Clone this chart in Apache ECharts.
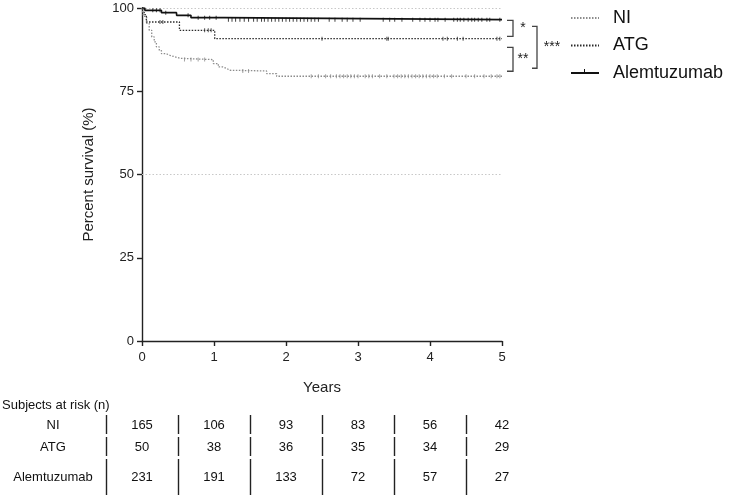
<!DOCTYPE html>
<html>
<head>
<meta charset="utf-8">
<script src="https://cdn.jsdelivr.net/npm/echarts@6/dist/echarts.min.js"></script>
<style>
html,body{margin:0;padding:0;background:#fff;}
#chart{width:729px;height:496px;}
</style>
</head>
<body>
<div id="chart"></div>
<script>
// ---- data ----
const seriesNames = ['NI', 'ATG', 'Alemtuzumab'];
const xTicks = [0, 1, 2, 3, 4, 5];
const yTicks = [0, 25, 50, 75, 100];

const niT = [0, 0.02, 0.065, 0.1, 0.135, 0.17, 0.2, 0.24, 0.27, 0.33, 0.39, 0.46, 0.53, 0.99, 1.06, 1.12, 1.18, 1.22, 1.73, 1.87, 5];
const niS = [100, 97.5, 95.4, 93.3, 91.3, 89.8, 88.3, 87.2, 86.3, 85.8, 85.3, 84.9, 84.5, 83.3, 82.3, 81.8, 81.3, 81.1, 80.3, 79.5, 79.5];

const atgT = [0, 0.03, 0.06, 0.52, 1.01, 5];
const atgS = [100, 98, 95.8, 93.3, 90.8, 90.8];

const alemT = [0, 0.04, 0.27, 0.48, 0.68, 1.14, 5];
const alemS = [100, 99.3, 98.6, 97.8, 97.1, 96.5, 96.5];

const niCensor = [0.59, 0.68, 0.78, 0.87, 1.4, 1.48, 2.35, 2.45, 2.55, 2.62, 2.7, 2.75, 2.8, 2.85, 2.9, 2.95, 3.0, 3.1, 3.15, 3.2, 3.3, 3.4, 3.5, 3.55, 3.6, 3.65, 3.7, 3.75, 3.8, 3.85, 3.9, 3.95, 4.0, 4.05, 4.1, 4.2, 4.3, 4.5, 4.62, 4.75, 4.85, 4.93, 4.97];
const atgCensor = [0.25, 0.29, 0.87, 0.92, 0.96, 2.5, 3.4, 3.42, 4.18, 4.24, 4.38, 4.46, 4.93, 4.97];
const alemCensor = [0.15, 0.2, 0.25, 0.33, 0.64, 0.78, 0.87, 0.94, 1.03, 1.2, 1.25, 1.3, 1.36, 1.42, 1.48, 1.55, 1.6, 1.66, 1.7, 1.75, 1.8, 1.85, 1.9, 1.95, 2.0, 2.05, 2.1, 2.15, 2.2, 2.25, 2.3, 2.35, 2.4, 2.45, 2.6, 2.68, 2.78, 2.85, 2.93, 3.03, 3.35, 3.44, 3.51, 3.61, 3.76, 3.86, 3.93, 4.0, 4.07, 4.11, 4.21, 4.33, 4.38, 4.42, 4.47, 4.53, 4.58, 4.62, 4.67, 4.72, 4.79, 4.83, 4.97];

const gridValues = [50, 100];

// significance brackets: [upper value, lower value, label]
const bracketInner = [[96.3, 91.5, '*'], [88.2, 81.0, '**']];
const bracketOuter = [[94.5, 81.9, '***']];

// at-risk table
const riskTitle = 'Subjects at risk (n)';
const riskNI = [165, 106, 93, 83, 56, 42];
const riskATG = [50, 38, 36, 35, 34, 29];
const riskAlem = [231, 191, 133, 72, 57, 27];

// ---- helpers ----
function pairs(t, s) { return t.map((x, i) => [x, s[i]]); }
function survAt(t, s, x) {
  let v = s[0];
  for (let i = 0; i < t.length; i++) { if (t[i] <= x) v = s[i]; }
  return v;
}
function censorPts(c, t, s) { return c.map(x => [x, survAt(t, s, x)]); }

const FONT = '"Liberation Sans", Arial, sans-serif';
const NI_COLOR = '#8c8c8c';
const ATG_COLOR = '#2a2a2a';
const ALEM_COLOR = '#111';

const chart = echarts.init(document.getElementById('chart'), null, {renderer: 'canvas'});

const option = {
  animation: false,
  backgroundColor: '#fff',
  textStyle: {fontFamily: FONT},
  grid: {left: 142, top: 8, width: 360, height: 333, containLabel: false},
  legend: {
    orient: 'vertical',
    left: 570, top: 8, padding: 0,
    itemWidth: 28, itemHeight: 10, itemGap: 7.5,
    data: seriesNames,
    itemStyle: {opacity: 0},
    textStyle: {fontSize: 18, color: '#111', fontFamily: FONT, lineHeight: 20, padding: [0, 0, 0, 9]},
    selectedMode: false
  },
  xAxis: {
    type: 'value', min: 0, max: 5, interval: 1,
    name: 'Years', nameLocation: 'middle', nameGap: 39,
    nameTextStyle: {fontSize: 15, color: '#222', fontFamily: FONT},
    axisLine: {show: true, onZero: false, lineStyle: {color: '#222', width: 1.4}},
    axisTick: {show: true, length: 5, lineStyle: {color: '#222', width: 1.4}},
    axisLabel: {fontSize: 13, color: '#222', margin: 10, fontFamily: FONT},
    splitLine: {show: false}
  },
  yAxis: {
    type: 'value', min: 0, max: 100, interval: 25,
    name: 'Percent survival (%)', nameLocation: 'middle', nameGap: 46, nameRotate: 90,
    nameTextStyle: {fontSize: 15, color: '#222', fontFamily: FONT},
    axisLine: {show: true, onZero: false, lineStyle: {color: '#222', width: 1.4}},
    axisTick: {show: true, length: 5, lineStyle: {color: '#222', width: 1.4}},
    axisLabel: {fontSize: 13, color: '#222', margin: 8, fontFamily: FONT},
    splitLine: {show: false}
  },
  series: [
    {
      name: 'NI', type: 'line', step: 'end', data: pairs(niT, niS),
      symbol: 'none', showSymbol: false, z: 3,
      lineStyle: {color: NI_COLOR, width: 1.3, type: [1.5, 1.5]},
      itemStyle: {color: NI_COLOR},
      markLine: {
        silent: true, symbol: 'none', label: {show: false},
        lineStyle: {color: '#c8c8c8', width: 1, type: [1.5, 2]},
        data: gridValues.map(v => ({yAxis: v}))
      }
    },
    {
      name: 'ATG', type: 'line', step: 'end', data: pairs(atgT, atgS),
      symbol: 'none', showSymbol: false, z: 4,
      lineStyle: {color: ATG_COLOR, width: 1.3, type: [1.5, 1.5]},
      itemStyle: {color: ATG_COLOR}
    },
    {
      name: 'Alemtuzumab', type: 'line', step: 'end', data: pairs(alemT, alemS),
      symbol: 'none', showSymbol: false, z: 5,
      lineStyle: {color: ALEM_COLOR, width: 1.6},
      itemStyle: {color: ALEM_COLOR}
    },
    {
      name: 'NI censored', type: 'scatter', data: censorPts(niCensor, niT, niS),
      symbol: 'rect', symbolSize: [1, 4], itemStyle: {color: NI_COLOR}, z: 3, silent: true
    },
    {
      name: 'ATG censored', type: 'scatter', data: censorPts(atgCensor, atgT, atgS),
      symbol: 'rect', symbolSize: [1, 4], itemStyle: {color: ATG_COLOR}, z: 4, silent: true
    },
    {
      name: 'Alemtuzumab censored', type: 'scatter', data: censorPts(alemCensor, alemT, alemS),
      symbol: 'rect', symbolSize: [1, 4], itemStyle: {color: ALEM_COLOR}, z: 5, silent: true
    }
  ]
};
chart.setOption(option);

// ---- annotations (brackets + at-risk table) positioned through the axes ----
const g = [];
const px = (x, y) => chart.convertToPixel({gridIndex: 0}, [x, y]);
const xEnd = px(5, 0)[0];
const BR = '#444';

function bracket(upper, lower, label, x0, x1, tx) {
  const yA = px(5, upper)[1], yB = px(5, lower)[1];
  g.push({type: 'polyline', shape: {points: [[x0, yA], [x1, yA], [x1, yB], [x0, yB]]},
    style: {stroke: BR, lineWidth: 1.3, fill: null}, silent: true});
  g.push({type: 'text', x: tx, y: (yA + yB) / 2,
    style: {text: label, fontSize: 14, fill: '#222', fontFamily: FONT, align: 'center', verticalAlign: 'middle'}});
}
bracketInner.forEach(b => bracket(b[0], b[1], b[2], xEnd + 5, xEnd + 11, xEnd + 21));
bracketOuter.forEach(b => bracket(b[0], b[1], b[2], xEnd + 30, xEnd + 35, xEnd + 50));

// legend tick on the Alemtuzumab legend line
g.push({type: 'line', shape: {x1: 584.5, y1: 69, x2: 584.5, y2: 73}, style: {stroke: ALEM_COLOR, lineWidth: 1}, silent: true});

// table
const TFONT = FONT;
g.push({type: 'text', x: 2, y: 405,
  style: {text: riskTitle, fontSize: 13, fill: '#111', fontFamily: TFONT, align: 'left', verticalAlign: 'middle'}});
const rows = [
  {label: 'NI', vals: riskNI, y: 425, y0: 415, y1: 434},
  {label: 'ATG', vals: riskATG, y: 447, y0: 437, y1: 456},
  {label: 'Alemtuzumab', vals: riskAlem, y: 477, y0: 459, y1: 495}
];
rows.forEach(r => {
  g.push({type: 'text', x: 53, y: r.y,
    style: {text: r.label, fontSize: 13, fill: '#111', fontFamily: TFONT, align: 'center', verticalAlign: 'middle'}});
  r.vals.forEach((v, i) => {
    const cx = px(xTicks[i], 0)[0];
    g.push({type: 'text', x: cx, y: r.y,
      style: {text: String(v), fontSize: 13, fill: '#111', fontFamily: TFONT, align: 'center', verticalAlign: 'middle'}});
    const sx = Math.round(px(xTicks[i] - 0.5, 0)[0]) + 0.5;
    g.push({type: 'line', shape: {x1: sx, y1: r.y0, x2: sx, y2: r.y1},
      style: {stroke: '#222', lineWidth: 1.4}, silent: true});
  });
});

chart.setOption({graphic: g});
</script>
</body>
</html>
